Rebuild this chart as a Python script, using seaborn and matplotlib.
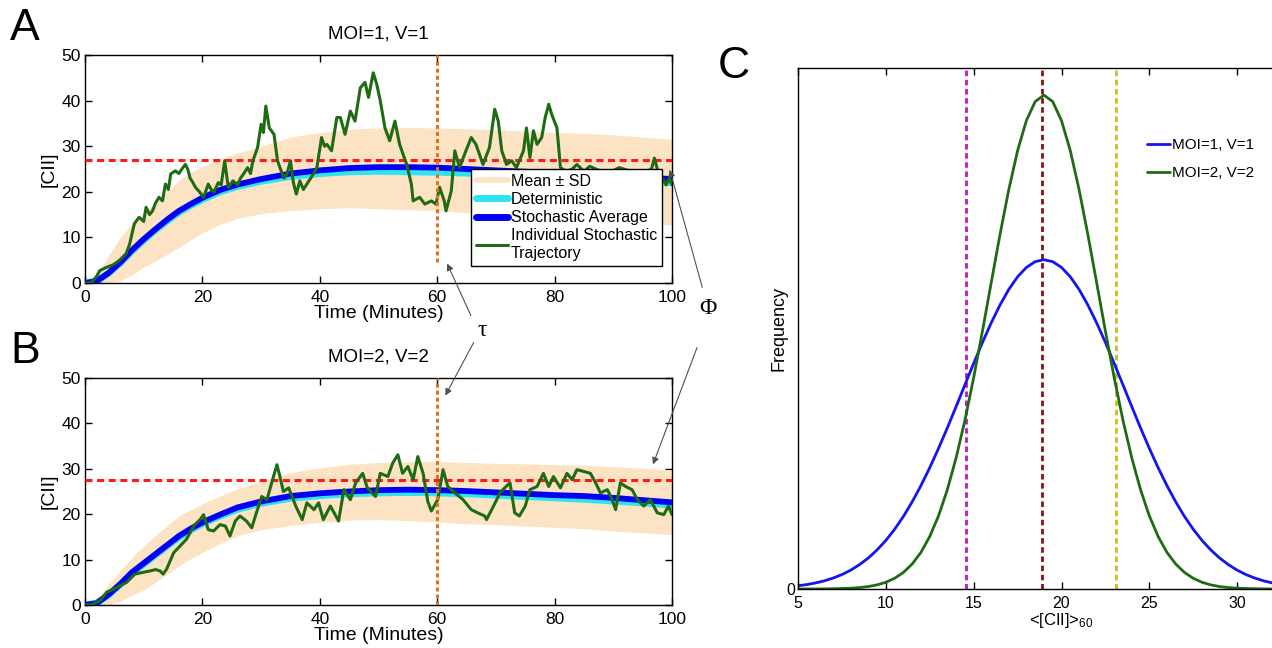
import numpy as np
import pandas as pd
import matplotlib
matplotlib.use("Agg")
import matplotlib.pyplot as plt
import seaborn as sns
from matplotlib.lines import Line2D
from matplotlib.patches import FancyArrowPatch

# ---------------- data ----------------
# smooth curves (time in minutes)
t_smooth = [0, 2, 4, 6, 8, 10, 12, 14, 16, 18, 20, 23, 26, 30, 35, 40, 45, 50,
            55, 60, 65, 70, 75, 80, 85, 90, 95, 100]

A_mean = [0, 0.4, 2.2, 4.5, 7.2, 9.6, 11.8, 13.9, 15.8, 17.3, 18.7, 20.4, 21.6,
          22.8, 24.0, 24.7, 25.2, 25.4, 25.4, 25.3, 25.0, 24.7, 24.4, 24.1, 23.8,
          23.5, 23.1, 22.8]
A_det = [0, 0.4, 2.1, 4.4, 7.0, 9.4, 11.6, 13.6, 15.5, 17.0, 18.3, 20.0, 21.2,
         22.3, 23.4, 24.0, 24.4, 24.5, 24.4, 24.3, 24.1, 23.8, 23.5, 23.2, 22.9,
         22.6, 22.3, 22.0]
A_upper = [0, 1.5, 6.0, 10.0, 13.0, 15.5, 17.5, 20.0, 22.5, 24.3, 25.5, 27.3,
           28.5, 30.0, 32.0, 33.0, 33.7, 34.0, 34.1, 34.0, 33.8, 33.6, 33.3, 33.0,
           32.8, 32.5, 32.0, 31.5]
A_lower = [0, 0, 0, 0.5, 1.8, 3.5, 4.8, 6.3, 7.8, 9.5, 11.0, 12.8, 14.2, 15.2,
           15.9, 16.3, 16.5, 16.3, 16.1, 15.9, 15.4, 15.0, 14.6, 14.3, 13.8, 13.5,
           13.1, 12.7]

B_mean = [0, 0.4, 2.3, 4.6, 7.2, 9.2, 11.2, 13.2, 15.2, 16.8, 18.2, 19.9, 21.5,
          22.8, 24.0, 24.6, 25.0, 25.3, 25.4, 25.3, 25.1, 24.8, 24.5, 24.2, 24.0,
          23.6, 23.1, 22.6]
B_det = [0, 0.4, 2.2, 4.5, 7.0, 9.0, 11.0, 13.0, 14.9, 16.5, 17.9, 19.6, 21.1,
         22.4, 23.5, 24.1, 24.5, 24.7, 24.8, 24.7, 24.5, 24.2, 23.9, 23.6, 23.3,
         22.9, 22.5, 22.0]
B_upper = [0, 1.5, 4.5, 7.5, 10.5, 13.0, 15.3, 17.5, 19.6, 21.0, 22.3, 24.0,
           25.6, 27.3, 29.2, 30.2, 31.0, 31.4, 31.6, 31.6, 31.4, 31.2, 31.1, 30.9,
           30.8, 30.5, 30.1, 29.8]
B_lower = [0, 0, 0, 0.8, 2.2, 3.3, 5.0, 6.8, 8.6, 10.2, 11.6, 13.5, 15.3, 16.6,
           17.5, 18.2, 18.7, 18.8, 18.6, 18.3, 17.9, 17.7, 17.4, 17.1, 16.8, 16.3,
           15.9, 15.5]

# individual stochastic trajectories
trajA_t = [0, 1, 2, 2.5, 3.6, 4.8, 5.9, 7, 7.6, 8.4, 9.2, 10, 10.4, 11, 11.5, 12,
           12.6, 13.2, 13.7, 14.2, 14.6, 15.4, 16, 16.5, 17.1, 17.5, 17.9, 18.4,
           18.8, 19.5, 20.2, 21, 21.5, 22, 22.7, 23.2, 23.8, 24.4, 25.2, 26, 26.5,
           27, 27.7, 28.2, 28.6, 29.4, 30, 30.4, 30.8, 31.4, 32.2, 32.8, 33.3,
           33.9, 34.4, 35, 35.5, 36, 36.6, 37.2, 37.8, 38.9, 39.5, 40.3, 40.8,
           41.2, 42, 42.9, 43.5, 44.3, 45.2, 46, 46.9, 47.7, 48.3, 49.1, 49.7,
           50.3, 51.1, 51.9, 52.8, 53.6, 54.8, 55.6, 55.9, 57, 57.9, 59, 59.8,
           60.4, 61.2, 61.5, 62.4, 63, 63.8, 64.9, 65.8, 66.6, 67.8, 68.9, 69.8,
           70.4, 71, 71.8, 72.7, 73.5, 74.7, 75.2, 75.8, 76.4, 77, 77.8, 78.4, 79,
           79.5, 80.4, 81, 82, 83, 83.8, 85, 86, 87, 89, 91, 93, 95, 96.5, 97,
           97.6, 98.4, 99, 99.5, 100]
trajA_v = [0, 0, 1.5, 2.7, 3.4, 4, 5, 6.4, 8.5, 13, 14.4, 13.5, 16.6, 15, 15.8,
           17.5, 18.8, 18, 21.7, 20.5, 23.9, 24.6, 24, 25, 26, 25, 23, 22, 21, 20,
           18.8, 21.7, 20.5, 20, 22, 21.5, 26.8, 21, 22.4, 21.5, 23, 23.9, 25.3,
           24, 26.8, 29.7, 34.8, 33, 38.8, 34, 32.6, 26.8, 25, 23, 23.9, 26.8, 22,
           19.5, 22.4, 20.5, 21.7, 23.9, 25.3, 31.9, 30, 30.4, 29, 36.3, 36.3, 32.6,
           37.7, 35.5, 42.8, 44, 40.7, 46.1, 43.6, 40, 34, 31.2, 35.5, 30.4, 26,
           21.7, 18, 18.8, 17.3, 18, 17.3, 21, 18, 15.8, 20.2, 29, 25.3, 29, 31.9,
           30.4, 26, 29.7, 38.1, 35.5, 29, 26, 26.8, 25.3, 29, 34, 27.5, 33.4, 30.4,
           31.9, 36.3, 39.2, 37, 34, 25.3, 24.5, 25, 26, 24.5, 25.6, 25, 24, 25.3,
           24.5, 24, 25, 27.4, 24.5, 23, 21.5, 23, 21.5]

trajB_t = [0, 1, 2.6, 3.7, 4.8, 5.9, 7.1, 8.5, 9.9, 11.1, 12, 12.8, 13.3, 13.9,
           15.1, 16.2, 17.3, 18.5, 19.6, 20.2, 21, 21.9, 23, 23.9, 24.7, 25.6,
           26.4, 27.5, 28.4, 29.2, 30.1, 31, 31.8, 32.7, 33.2, 33.8, 34.7, 35.9,
           37, 37.8, 39, 39.8, 40.6, 41.8, 43.2, 44.1, 45.2, 46.1, 47.3, 48.1,
           49.5, 50.3, 51.6, 52.4, 53.3, 54.1, 55, 55.9, 56.7, 57.6, 58.4, 59,
           60.1, 61, 61.8, 63, 64.4, 65.8, 66.9, 68.1, 68.4, 69.6, 70.7, 71.5,
           72.4, 73.2, 74, 75, 75.8, 77, 78.1, 79, 79.8, 81, 82.1, 83, 83.8, 85,
           86.1, 87, 87.8, 89, 89.8, 90.4, 91.2, 92.1, 93.2, 94.1, 95.2, 96.3,
           97.5, 98.6, 99.4, 100]
trajB_v = [0, 0, 1, 2.8, 3.5, 4.2, 5, 6.8, 7.2, 7.5, 7.8, 7.5, 6.8, 7.9, 11.5, 13,
           14.5, 17.4, 18.8, 19.9, 16.6, 16.3, 17.7, 17.4, 15.2, 18.5, 19.6, 18.5,
           17, 20.3, 23.9, 23.2, 26.9, 30.9, 28.3, 25, 25.8, 21.8, 18.8, 22.5, 21,
           22.5, 18.8, 21.8, 18.5, 25.4, 23.2, 26.9, 29, 25.8, 23.9, 29, 28.3,
           31.2, 33.1, 29, 30.5, 27.6, 32.7, 29, 22.8, 20.7, 23.2, 29.8, 26.1,
           24.7, 23.2, 21, 20.3, 19.6, 18.8, 21.8, 24.7, 25.8, 26.9, 20.3, 19.6,
           21.8, 25.4, 26.1, 29, 26.1, 28.3, 25.8, 29, 27.6, 29.8, 29.4, 29, 26.9,
           24.7, 25.4, 23.2, 21, 26.9, 26.1, 25.4, 23.2, 21.8, 23.2, 20.3, 19.9,
           21.8, 19.9]

threshold_A = 26.9
threshold_B = 27.6
tau = 60

# panel C: frequency of <[CII]>_60 (relative units)
c_x = list(np.arange(5, 35.01, 0.5))
c_blue = [0.0062, 0.0085, 0.0116, 0.0157, 0.0210, 0.0277, 0.0362, 0.0467, 0.0595,
          0.0749, 0.0932, 0.1146, 0.1393, 0.1673, 0.1986, 0.2329, 0.2699, 0.3092,
          0.3501, 0.3917, 0.4330, 0.4732, 0.5109, 0.5452, 0.5750, 0.5993, 0.6172,
          0.6283, 0.6320,
          0.6283, 0.6172, 0.5993, 0.5750, 0.5452, 0.5109, 0.4732, 0.4330, 0.3917,
          0.3501, 0.3092, 0.2699, 0.2329, 0.1986, 0.1673, 0.1393, 0.1146, 0.0932,
          0.0749, 0.0595, 0.0467, 0.0362, 0.0277, 0.0210, 0.0157, 0.0116, 0.0085,
          0.0062, 0.0044, 0.0031, 0.0022, 0.0015]
c_green = [0.0000, 0.0001, 0.0001, 0.0002, 0.0005, 0.0009, 0.0015, 0.0027, 0.0047,
           0.0079, 0.0129, 0.0205, 0.0318, 0.0480, 0.0704, 0.1008, 0.1404, 0.1905,
           0.2517, 0.3237, 0.4056, 0.4950, 0.5881, 0.6805, 0.7667, 0.8414, 0.8990,
           0.9355, 0.9480,
           0.9355, 0.8990, 0.8414, 0.7667, 0.6805, 0.5881, 0.4950, 0.4056, 0.3237,
           0.2517, 0.1905, 0.1404, 0.1008, 0.0704, 0.0480, 0.0318, 0.0205, 0.0129,
           0.0079, 0.0047, 0.0027, 0.0015, 0.0009, 0.0005, 0.0002, 0.0001, 0.0001,
           0.0000, 0.0, 0.0, 0.0, 0.0]
c_labels = ["MOI=1, V=1", "MOI=2, V=2"]
c_vlines = [14.54, 18.91, 23.08]

# ---------------- style ----------------
sns.set_style("white")
plt.rcParams['font.family'] = ['Liberation Sans', 'DejaVu Sans']
plt.rcParams['mathtext.fontset'] = 'custom'
plt.rcParams['mathtext.rm'] = 'Liberation Sans'
plt.rcParams['mathtext.it'] = 'Liberation Sans'
plt.rcParams['axes.edgecolor'] = 'black'
plt.rcParams['axes.linewidth'] = 1.0
plt.rcParams['text.color'] = 'black'
plt.rcParams['axes.labelcolor'] = 'black'

BAND = '#FBE3C3'
CYAN = '#2FE4F0'
BLUE = '#0000F5'
GREEN = '#1F6B14'
RED = '#FF1A1A'
ORANGE = '#DD7420'

W, H = 1272, 648
fig = plt.figure(figsize=(W / 100, H / 100), dpi=100)


def fx(px):
    return px / W


def fy(py):
    return 1 - py / H


axA = fig.add_axes([fx(85), fy(283), 587 / W, 228 / H])
axB = fig.add_axes([fx(85), fy(605), 587 / W, 227 / H])
axC = fig.add_axes([fx(798), fy(589), 527 / W, 521 / H])


def draw_panel(ax, upper, lower, mean, det, tt, tv, thr, tau_ymin, title):
    ax.fill_between(t_smooth, lower, upper, color=BAND, lw=0, zorder=1)
    d = pd.DataFrame({'t': t_smooth, 'det': det, 'mean': mean})
    sns.lineplot(data=d, x='t', y='det', ax=ax, color=CYAN, lw=5,
                 estimator=None, sort=False, zorder=2)
    sns.lineplot(data=d, x='t', y='mean', ax=ax, color=BLUE, lw=4.2,
                 estimator=None, sort=False, zorder=3)
    ax.axhline(thr, color=RED, ls=(0, (2.3, 1.5)), lw=2.2, zorder=4)
    tr = pd.DataFrame({'t': tt, 'v': tv})
    sns.lineplot(data=tr, x='t', y='v', ax=ax, color=GREEN, lw=2.2,
                 estimator=None, sort=False, zorder=5)
    ax.axvline(tau, ymin=tau_ymin, ymax=1, color=ORANGE, ls=(0, (1.3, 1.0)),
               lw=2.2, zorder=6)
    ax.set_xlim(0, 100)
    ax.set_ylim(0, 50)
    ax.set_xticks([0, 20, 40, 60, 80, 100])
    ax.set_yticks([0, 10, 20, 30, 40, 50])
    ax.tick_params(direction='in', bottom=True, left=True, top=True, right=True,
                   length=5, width=1, labelsize=12.5, colors='black')
    ax.tick_params(axis='x', pad=5)
    ax.tick_params(axis='y', pad=3)
    ax.set_xlabel('Time (Minutes)', fontsize=14, labelpad=0)
    ax.set_ylabel('[CII]', fontsize=14, labelpad=3)
    ax.set_title(title, fontsize=13.5, pad=12)
    for s in ax.spines.values():
        s.set_visible(True)
        s.set_color('black')


draw_panel(axA, A_upper, A_lower, A_mean, A_det, trajA_t, trajA_v,
           threshold_A, 0.09, 'MOI=1, V=1')
draw_panel(axB, B_upper, B_lower, B_mean, B_det, trajB_t, trajB_v,
           threshold_B, 0.0, 'MOI=2, V=2')

handles = [Line2D([], [], color=BAND, lw=4),
           Line2D([], [], color=CYAN, lw=5),
           Line2D([], [], color=BLUE, lw=5),
           Line2D([], [], color=GREEN, lw=2.2)]
labels = ['Mean \u00b1 SD', 'Deterministic', 'Stochastic Average',
          'Individual Stochastic\nTrajectory']
legA = axA.legend(handles, labels, loc='upper left',
                  bbox_to_anchor=((471 - 85) / 587, (283 - 169) / 228),
                  borderaxespad=0, frameon=True, fancybox=False,
                  edgecolor='black', framealpha=1, fontsize=11.5,
                  handlelength=2.0, handletextpad=0.2, labelspacing=0.2,
                  borderpad=0.3)
legA.get_frame().set_linewidth(1.0)
legA.set_zorder(10)

# ---------------- panel C ----------------
dC = pd.DataFrame({'x': c_x * 2, 'y': c_blue + c_green,
                   'series': [c_labels[0]] * len(c_x) + [c_labels[1]] * len(c_x)})
sns.lineplot(data=dC, x='x', y='y', hue='series', ax=axC,
             palette={c_labels[0]: '#1414F0', c_labels[1]: GREEN},
             lw=2, estimator=None, sort=False)
vcols = ['#C812C8', '#8B1212', '#C8BE1E']
for xv, col in zip(c_vlines, vcols):
    axC.axvline(xv, color=col, ls=(0, (2.0, 1.3)), lw=2, zorder=1)
axC.set_xlim(5, 35)
axC.set_ylim(0, 1)
axC.set_xticks([5, 10, 15, 20, 25, 30])
axC.set_yticks([0])
axC.set_yticklabels(['0'])
axC.tick_params(direction='in', bottom=True, top=True, left=False, right=False,
                length=5, width=1, labelsize=11.5, colors='black')
axC.tick_params(axis='x', pad=5)
axC.tick_params(axis='y', pad=2, length=0)
axC.set_xlabel(r'<[CII]>$_{60}$', fontsize=12, labelpad=0)
axC.set_ylabel('Frequency', fontsize=13, labelpad=-1)
for s in axC.spines.values():
    s.set_visible(True)
    s.set_color('black')
legC = axC.legend(loc='upper left', bbox_to_anchor=(0.662, 0.865),
                  borderaxespad=0, borderpad=0, frameon=False, fontsize=11,
                  handlelength=1.5, handletextpad=0.15, labelspacing=0.9,
                  title=None)
for ln in legC.get_lines():
    ln.set_linewidth(2)

# ---------------- panel letters ----------------
fig.text(fx(10), fy(8), 'A', fontsize=32, va='top', ha='left')
fig.text(fx(10), fy(331), 'B', fontsize=32, va='top', ha='left')
fig.text(fx(718), fy(46), 'C', fontsize=32, va='top', ha='left')

# ---------------- annotations ----------------
fig.text(fx(482), fy(330), '\u03c4', fontsize=17, ha='center', va='center',
         family=['Liberation Serif', 'DejaVu Serif'])
fig.text(fx(708), fy(309), '\u03a6', fontsize=17, ha='center', va='center',
         family=['Liberation Serif', 'DejaVu Serif'])
arrows = [((472, 318), (446, 261)), ((475, 340), (444, 398)),
          ((703, 290), (669, 167)), ((698, 345), (652, 467))]
for (x0, y0), (x1, y1) in arrows:
    fig.add_artist(FancyArrowPatch((fx(x0), fy(y0)), (fx(x1), fy(y1)),
                                   transform=fig.transFigure,
                                   arrowstyle='-|>', mutation_scale=10,
                                   color='#505050', lw=0.8, zorder=20))

fig.savefig('out.png', dpi=100)
